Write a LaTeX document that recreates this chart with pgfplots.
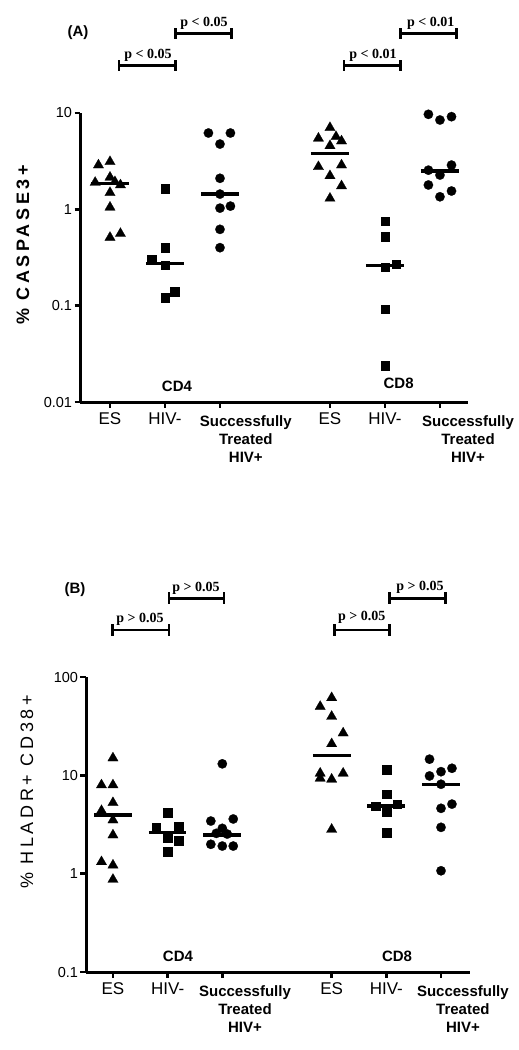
\documentclass[border=0pt]{standalone}
\usepackage{pgfplots}
\pgfplotsset{compat=1.18}
\usepackage{fontspec}
\setmainfont{Liberation Sans}
\newfontfamily\tnr{Liberation Serif}
\pgfplotsset{
  myax/.style={
    scale only axis,
    axis lines*=left,
    line width=3pt,
    axis line style={line width=3pt, black},
    tick align=outside,
    major tick length=5.5pt,
    tick style={line width=2.8pt, black},
    yminorticks=false,
    xtick={1,2,3,5,6,7},
    xticklabels={ES,HIV-,{},ES,HIV-,{}},
    xticklabel style={font=\fontsize{17}{17}\selectfont, inner sep=2pt, yshift=-2pt},
    yticklabel style={font=\fontsize{14.5}{14.5}\selectfont, inner sep=1pt},
    clip=false,
  },
  tri/.style={only marks, mark=triangle*, mark size=6pt, mark options={solid,fill=black,draw=black,line width=0.2pt}},
  sq/.style={only marks, mark=square*, mark size=4.3pt, mark options={solid,fill=black,draw=black,line width=0.2pt}},
  ci/.style={only marks, mark=*, mark size=4.7pt, mark options={solid,fill=black,draw=black,line width=0.2pt}},
  med/.style={no marks, line width=3.2pt, black},
}
\begin{document}
\begin{tikzpicture}
\useasboundingbox (0,0) rectangle (519pt,-1050pt);
% ---------------- Panel A ----------------
\begin{axis}[myax, ymode=log, at={(80pt,-402pt)}, anchor=south west,
  width=388pt, height=289pt,
  xmin=0.4545, xmax=7.51, ymin=0.01, ymax=10,
  ytick={0.01,0.1,1,10}, yticklabels={0.01,0.1,1,10}]
% CD4 ES
\addplot[tri] coordinates {(0.79,2.88) (1.0,3.12) (0.73,1.90) (1.0,2.15) (1.09,1.93) (1.19,1.79) (1.0,1.49) (1.0,1.05) (1.0,0.51) (1.19,0.56)};
\addplot[med] coordinates {(0.655,1.87) (1.345,1.87)};
% CD4 HIV-
\addplot[sq] coordinates {(2.0,1.65) (2.0,0.398) (1.76,0.301) (2.0,0.263) (2.18,0.141) (2.0,0.121)};
\addplot[med] coordinates {(1.655,0.274) (2.345,0.274)};
% CD4 treated
\addplot[ci] coordinates {(2.79,6.2) (3.19,6.2) (3.0,4.76) (3.0,2.1) (3.0,1.44) (3.19,1.08) (3.0,1.03) (3.0,0.62) (3.0,0.40)};
\addplot[med] coordinates {(2.655,1.44) (3.345,1.44)};
% CD8 ES
\addplot[tri] coordinates {(5.0,7.04) (5.11,5.67) (4.79,5.46) (5.21,5.12) (5.0,4.57) (5.21,2.88) (4.79,2.77) (5.0,2.23) (5.21,1.75) (5.0,1.30)};
\addplot[med] coordinates {(4.655,3.81) (5.345,3.81)};
% CD8 HIV-
\addplot[sq] coordinates {(6.0,0.754) (6.0,0.518) (6.0,0.252) (6.2,0.269) (6.0,0.0918) (6.0,0.024)};
\addplot[med] coordinates {(5.655,0.26) (6.345,0.26)};
% CD8 treated
\addplot[ci] coordinates {(6.79,9.69) (7.0,8.46) (7.21,9.16) (6.79,2.55) (7.0,2.27) (7.21,2.88) (6.79,1.79) (7.21,1.55) (7.0,1.35)};
\addplot[med] coordinates {(6.655,2.5) (7.345,2.5)};
\node[anchor=north, align=center, font=\bfseries\fontsize{15}{18}\selectfont, inner sep=0pt, yshift=-12pt]
  at (axis cs:3.47,0.01) {Successfully\\Treated\\HIV+};
\node[anchor=north, align=center, font=\bfseries\fontsize{15}{18}\selectfont, inner sep=0pt, yshift=-12pt]
  at (axis cs:7.51,0.01) {Successfully\\Treated\\HIV+};
\end{axis}
% ---------------- Panel B ----------------
\begin{axis}[myax, ymode=log, at={(86pt,-972pt)}, anchor=south west,
  width=384pt, height=295pt,
  xmin=0.507, xmax=7.53, ymin=0.1, ymax=100,
  ytick={0.1,1,10,100}, yticklabels={0.1,1,10,100}]
% CD4 ES
\addplot[tri] coordinates {(1.0,15.0) (0.79,7.98) (1.0,7.98) (1.0,5.27) (0.79,4.37) (1.0,3.51) (1.0,2.47) (0.79,1.32) (1.0,1.22) (1.0,0.873)};
\addplot[med] coordinates {(0.655,3.95) (1.345,3.95)};
% CD4 HIV-
\addplot[sq] coordinates {(2.0,4.17) (1.79,2.96) (2.2,3.05) (2.0,2.32) (2.2,2.16) (2.0,1.67)};
\addplot[med] coordinates {(1.655,2.61) (2.345,2.61)};
% CD4 treated
\addplot[ci] coordinates {(3.0,13.1) (2.79,3.43) (3.2,3.6) (3.0,2.89) (2.89,2.57) (3.09,2.53) (2.79,1.99) (3.0,1.91) (3.2,1.91)};
\addplot[med] coordinates {(2.655,2.47) (3.345,2.47)};
% CD8 ES
\addplot[tri] coordinates {(5.0,61.5) (4.79,50.1) (5.0,39.7) (5.21,26.9) (5.0,20.9) (4.79,10.5) (4.79,9.34) (5.0,9.12) (5.21,10.5) (5.0,2.82)};
\addplot[med] coordinates {(4.655,15.8) (5.345,15.8)};
% CD8 HIV-
\addplot[sq] coordinates {(6.0,11.5) (6.0,6.46) (5.8,4.88) (6.2,5.1) (6.0,4.27) (6.0,2.61)};
\addplot[med] coordinates {(5.655,4.88) (6.345,4.88)};
% CD8 treated
\addplot[ci] coordinates {(6.79,14.6) (7.2,11.8) (7.0,10.9) (6.79,9.86) (7.0,8.12) (7.2,5.1) (7.0,4.62) (7.0,2.96) (7.0,1.07)};
\addplot[med] coordinates {(6.655,8.0) (7.345,8.0)};
\node[anchor=north, align=center, font=\bfseries\fontsize{15}{18}\selectfont, inner sep=0pt, yshift=-12pt]
  at (axis cs:3.415,0.1) {Successfully\\Treated\\HIV+};
\node[anchor=north, align=center, font=\bfseries\fontsize{15}{18}\selectfont, inner sep=0pt, yshift=-12pt]
  at (axis cs:7.40,0.1) {Successfully\\Treated\\HIV+};
\end{axis}
% ---------------- annotations ----------------
\node[font=\bfseries\fontsize{15}{15}\selectfont] at (78pt,-33pt) {(A)};
\node[font=\bfseries\fontsize{15}{15}\selectfont] at (75pt,-590pt) {(B)};
\node[rotate=90, font=\bfseries\fontsize{18}{18}\selectfont\addfontfeatures{LetterSpace=20}] at (23pt,-245pt) {\% CASPASE3+};
\node[rotate=90, font=\fontsize{18}{18}\selectfont\addfontfeatures{LetterSpace=20}] at (27pt,-792pt) {\% HLADR+ CD38+};
\node[font=\bfseries\fontsize{15}{15}\selectfont] at (177pt,-386.5pt) {CD4};
\node[font=\bfseries\fontsize{15}{15}\selectfont] at (398.6pt,-383.5pt) {CD8};
\node[font=\bfseries\fontsize{15}{15}\selectfont] at (178pt,-956.5pt) {CD4};
\node[font=\bfseries\fontsize{15}{15}\selectfont] at (397pt,-956.5pt) {CD8};
% brackets
\begin{scope}[line width=2.8pt]
\draw (119pt,-60pt) -- (119pt,-71pt) (119pt,-65.7pt) -- (175.7pt,-65.7pt) (175.7pt,-60pt) -- (175.7pt,-71pt);
\draw (175.7pt,-28pt) -- (175.7pt,-39pt) (175.7pt,-33.3pt) -- (231.7pt,-33.3pt) (231.7pt,-28pt) -- (231.7pt,-39pt);
\draw (344pt,-60pt) -- (344pt,-71pt) (344pt,-65.7pt) -- (400.7pt,-65.7pt) (400.7pt,-60pt) -- (400.7pt,-71pt);
\draw (400.7pt,-28pt) -- (400.7pt,-39pt) (400.7pt,-33.3pt) -- (456.7pt,-33.3pt) (456.7pt,-28pt) -- (456.7pt,-39pt);
\draw (112.7pt,-624pt) -- (112.7pt,-636pt) (112.7pt,-630pt) -- (169pt,-630pt) (169pt,-624pt) -- (169pt,-636pt);
\draw (169pt,-592pt) -- (169pt,-604pt) (169pt,-598.3pt) -- (224pt,-598.3pt) (224pt,-592pt) -- (224pt,-604pt);
\draw (334.3pt,-624pt) -- (334.3pt,-636pt) (334.3pt,-630pt) -- (389.3pt,-630pt) (389.3pt,-624pt) -- (389.3pt,-636pt);
\draw (389.3pt,-592pt) -- (389.3pt,-604pt) (389.3pt,-598.3pt) -- (445.7pt,-598.3pt) (445.7pt,-592pt) -- (445.7pt,-604pt);
\end{scope}
\begin{scope}[every node/.style={font=\tnr\bfseries\fontsize{14}{14}\selectfont, inner sep=0pt}]
\node at (148pt,-55pt) {p < 0.05};
\node at (204pt,-23.5pt) {p < 0.05};
\node at (373pt,-55pt) {p < 0.01};
\node at (430.7pt,-23pt) {p < 0.01};
\node at (140pt,-619pt) {p > 0.05};
\node at (196pt,-588pt) {p > 0.05};
\node at (361.7pt,-617.5pt) {p > 0.05};
\node at (420pt,-587.5pt) {p > 0.05};
\end{scope}
\end{tikzpicture}
\end{document}
